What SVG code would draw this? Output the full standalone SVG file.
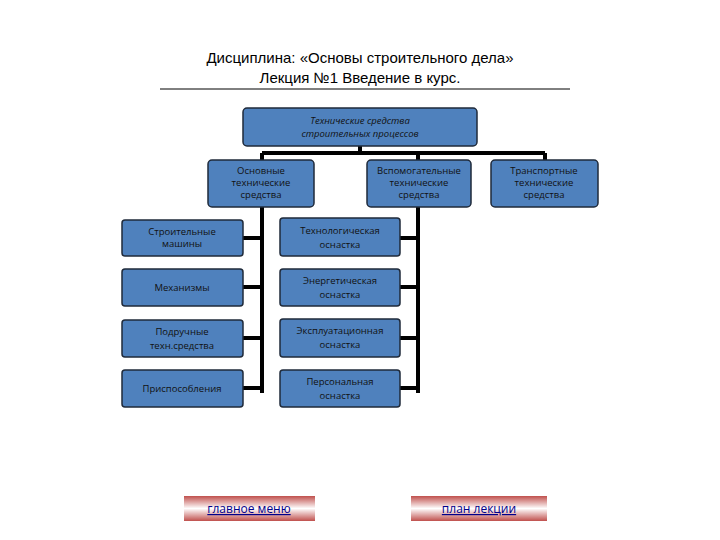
<svg xmlns="http://www.w3.org/2000/svg" width="720" height="540" viewBox="0 0 720 540">
<style>
.n{fill:#4f81bd;stroke:#1f2a3a;stroke-width:1.5}
.t{font-family:"Open Sans","DejaVu Sans",sans-serif;font-size:9.5px;fill:#111;text-anchor:middle}
.c{stroke:#000;stroke-width:4;fill:none}
.h{font-family:"Liberation Sans",Arial,sans-serif;font-size:15px;fill:#000;text-anchor:middle}
.b{font-family:"Open Sans","DejaVu Sans",sans-serif;font-size:12px;fill:#00008b;text-anchor:middle;text-decoration:underline}
</style>
<defs>
<linearGradient id="g" x1="0" y1="0" x2="0" y2="1">
<stop offset="0" stop-color="#c0504d"/><stop offset="0.5" stop-color="#fff"/><stop offset="1" stop-color="#c0504d"/>
</linearGradient>
</defs>
<text class="h" x="360" y="63">Дисциплина:  «Основы строительного дела»</text>
<text class="h" x="360" y="83">Лекция №1  Введение в курс.</text>
<line x1="160" y1="89" x2="570" y2="89" stroke="#000" stroke-width="1"/>
<g id="connectors">
<path class="c" d="M360 146V153M262 153H545M262 153V161M418 153V161M545 153V161"/>
<path class="c" d="M262 207V393M418 207V393"/>
<path class="c" d="M243 238H262M243 287H262M243 338H262M243 388H262M400 238H418M400 287H418M400 338H418M400 388H418"/>
</g>
<g id="root"><rect class="n" x="243" y="108" width="234" height="38" rx="4"/><text class="t" x="360" y="124" font-style="italic">Технические  средства</text><text class="t" x="360" y="137" font-style="italic">строительных процессов</text></g>
<g id="osn"><rect class="n" x="208" y="160" width="106" height="47" rx="4"/><text class="t" x="261" y="174">Основные</text><text class="t" x="261" y="186">технические</text><text class="t" x="261" y="198">средства</text></g>
<g id="vsp"><rect class="n" x="367" y="160" width="104" height="47" rx="4"/><text class="t" x="419" y="174">Вспомогательные</text><text class="t" x="419" y="186">технические</text><text class="t" x="419" y="198">средства</text></g>
<g id="trn"><rect class="n" x="491" y="160" width="107" height="47" rx="4"/><text class="t" x="544" y="174">Транспортные</text><text class="t" x="544" y="186">технические</text><text class="t" x="544" y="198">средства</text></g>
<g id="l1"><rect class="n" x="122" y="220" width="121" height="36" rx="3"/><text class="t" x="182" y="235">Строительные</text><text class="t" x="182" y="247">машины</text></g>
<g id="l2"><rect class="n" x="122" y="269" width="121" height="37" rx="3"/><text class="t" x="182" y="291" font-size="11">Механизмы</text></g>
<g id="l3"><rect class="n" x="122" y="320" width="121" height="37" rx="3"/><text class="t" x="182" y="335" font-size="11">Подручные</text><text class="t" x="182" y="349" font-size="11">техн.средства</text></g>
<g id="l4"><rect class="n" x="122" y="370" width="121" height="37" rx="3"/><text class="t" x="182" y="392" font-size="11">Приспособления</text></g>
<g id="r1"><rect class="n" x="280" y="218" width="120" height="38" rx="3"/><text class="t" x="340" y="234" font-size="11">Технологическая</text><text class="t" x="340" y="248">оснастка</text></g>
<g id="r2"><rect class="n" x="280" y="269" width="120" height="37" rx="3"/><text class="t" x="340" y="284">Энергетическая</text><text class="t" x="340" y="298">оснастка</text></g>
<g id="r3"><rect class="n" x="280" y="319" width="120" height="38" rx="3"/><text class="t" x="340" y="334">Эксплуатационная</text><text class="t" x="340" y="348">оснастка</text></g>
<g id="r4"><rect class="n" x="280" y="370" width="120" height="37" rx="3"/><text class="t" x="340" y="385">Персональная</text><text class="t" x="340" y="399">оснастка</text></g>
<g id="btn1"><rect x="184" y="496" width="131" height="25" fill="url(#g)"/><text class="b" x="249" y="513">главное меню</text></g>
<g id="btn2"><rect x="411" y="496" width="136" height="25" fill="url(#g)"/><text class="b" x="479" y="513">план лекции</text></g>
</svg>
